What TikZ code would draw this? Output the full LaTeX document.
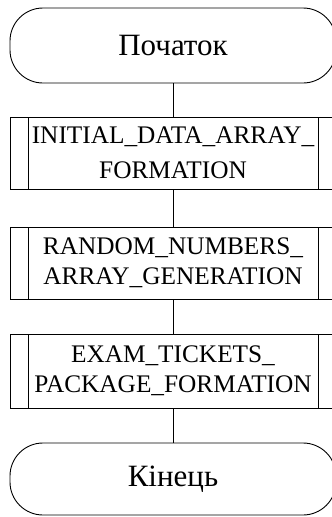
\documentclass[tikz,border=0pt]{standalone}
\usepackage{fontspec}
\setmainfont{Liberation Serif}
\begin{document}
\begin{tikzpicture}[x=1pt,y=1pt,
  every path/.style={line width=0.9pt},
  term/.style={draw, rounded corners=33pt, minimum width=326pt, minimum height=75pt,
    inner sep=0pt, font=\fontsize{31}{36}\selectfont},
  proc/.style={draw, minimum width=326pt, minimum height=72pt, inner sep=0pt, align=center,
    path picture={
      \draw[line width=0.9pt] ([xshift=18pt]path picture bounding box.north west) -- ([xshift=18pt]path picture bounding box.south west);
      \draw[line width=0.9pt] ([xshift=-18pt]path picture bounding box.north east) -- ([xshift=-18pt]path picture bounding box.south east);
    }},
  link/.style={draw, line width=0.9pt}
]
\useasboundingbox (0,0) rectangle (332,-517);
\node[term] (start) at (173,-45.5) {Початок};
\node[proc, minimum height=72pt, font=\fontsize{25.3}{35}\selectfont] (p1) at (173,-153) {INITIAL\_DATA\_ARRAY\_\\FORMATION};
\node[proc, minimum height=72pt, font=\fontsize{25.3}{30}\selectfont] (p2) at (173,-263) {RANDOM\_NUMBERS\_\\ARRAY\_GENERATION};
\node[proc, minimum height=74pt, font=\fontsize{25.3}{30}\selectfont] (p3) at (173,-371) {EXAM\_TICKETS\_\\PACKAGE\_FORMATION};
\node[term, minimum height=72pt] (stop) at (173,-479) {Кінець};
\draw[link] (start.south) -- (p1.north);
\draw[link] (p1.south) -- (p2.north);
\draw[link] (p2.south) -- (p3.north);
\draw[link] (p3.south) -- (stop.north);
\end{tikzpicture}
\end{document}
